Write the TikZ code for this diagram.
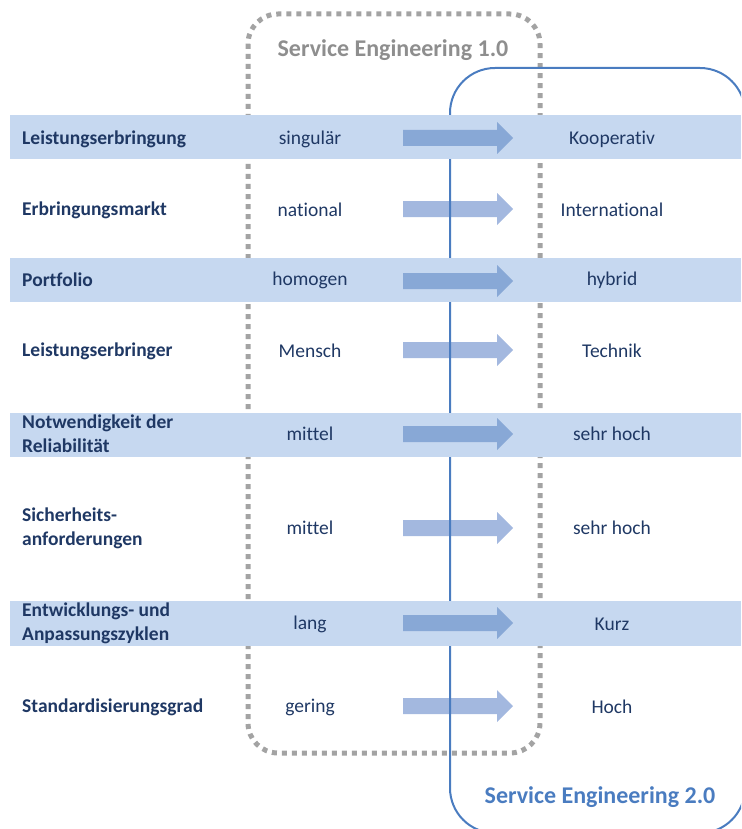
\documentclass[tikz,border=0pt]{standalone}
\usepackage{fontspec}
\setmainfont[Ligatures=NoCommon]{Carlito}
\usetikzlibrary{arrows.meta}
\definecolor{navy}{HTML}{1F3864}
\definecolor{band}{HTML}{C6D8F0}
\definecolor{arrdark}{HTML}{88A8D6}
\definecolor{arrlight}{HTML}{A3B8DF}
\definecolor{boxblue}{HTML}{4A7CC0}
\definecolor{dotgray}{HTML}{A3A3A3}
\definecolor{titlegray}{HTML}{8E8E8E}
\tikzset{
  lbl/.style={anchor=west,align=left,text=navy,font=\fontsize{19.5}{24}\selectfont\bfseries,inner sep=0pt},
  val/.style={text=navy,font=\fontsize{19.5}{24}\selectfont,inner sep=0pt},
  ttl/.style={font=\fontsize{24}{28}\selectfont\bfseries,inner sep=0pt},
}
\newcommand{\myarrow}[2]{%
  \fill[#2] (403,#1-8) -- (497,#1-8) -- (497,#1-16) -- (513,#1) -- (497,#1+16) -- (497,#1+8) -- (403,#1+8) -- cycle;}
\begin{document}
\begin{tikzpicture}[x=1pt,y=-1pt]
\useasboundingbox (0,0) rectangle (741,829);
\begin{scope}
\clip (0,0) rectangle (741,829);
% light arrows (white rows)
\myarrow{209}{arrlight}
\myarrow{350}{arrlight}
\myarrow{528}{arrlight}
\myarrow{706}{arrlight}
% dotted box
\draw[dotgray,line width=5pt,dash pattern=on 5pt off 5pt,rounded corners=30pt] (248,14) rectangle (540,753);
% blue box
\draw[boxblue,line width=2pt,rounded corners=45pt] (450,68) rectangle (745,833);
% bands
\fill[band] (10,115) rectangle (741,159);
\fill[band] (10,258) rectangle (741,302);
\fill[band] (10,413) rectangle (741,457);
\fill[band] (10,601) rectangle (741,646);
% dark arrows
\myarrow{138}{arrdark}
\myarrow{281}{arrdark}
\myarrow{434}{arrdark}
\myarrow{623}{arrdark}
\end{scope}
% titles
\node[ttl,text=titlegray] (t1) at (393,50) {Service Engineering 1.0};
\node[ttl,text=boxblue] (t2) at (600,797) {Service Engineering 2.0};
% rows
\node[lbl] (l1) at (22,139) {Leistungserbringung};
\node[val] (m1) at (310,139) {singulär};
\node[val] (r1) at (612,139) {Kooperativ};
\node[lbl] (l2) at (22,210) {Erbringungsmarkt};
\node[val] (m2) at (310,210) {national};
\node[val] (r2) at (612,210) {International};
\node[lbl] (l3) at (22,280) {Portfolio};
\node[val] (m3) at (310,280) {homogen};
\node[val] (r3) at (612,280) {hybrid};
\node[lbl] (l4) at (22,351) {Leistungserbringer};
\node[val] (m4) at (310,351) {Mensch};
\node[val] (r4) at (612,351) {Technik};
\node[lbl] (l5) at (22,434) {Notwendigkeit der\\Reliabilität};
\node[val] (m5) at (310,434) {mittel};
\node[val] (r5) at (612,434) {sehr hoch};
\node[lbl] (l6) at (22,528) {Sicherheits-\\anforderungen};
\node[val] (m6) at (310,528) {mittel};
\node[val] (r6) at (612,528) {sehr hoch};
\node[lbl] (l7) at (22,623) {Entwicklungs- und\\Anpassungszyklen};
\node[val] (m7) at (310,624) {lang};
\node[val] (r7) at (612,624) {Kurz};
\node[lbl] (l8) at (22,707) {Standardisierungsgrad};
\node[val] (m8) at (310,707) {gering};
\node[val] (r8) at (612,707) {Hoch};
\end{tikzpicture}
\end{document}
